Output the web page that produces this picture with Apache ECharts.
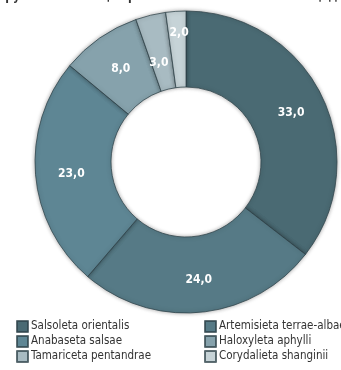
<!DOCTYPE html>
<html>
<head>
<meta charset="utf-8">
<script src="https://cdn.jsdelivr.net/npm/echarts@6/dist/echarts.min.js"></script>
<style>
  html, body { margin: 0; padding: 0; background: #fff; }
  #chart { width: 341px; height: 370px; }
</style>
</head>
<body>
<div id="chart"></div>
<script>
// Plant associations and their share of occupied area
const categories = [
  'Salsoleta orientalis',
  'Artemisieta terrae-albae',
  'Anabaseta salsae',
  'Haloxyleta aphylli',
  'Tamariceta pentandrae',
  'Corydalieta shanginii'
];
const values = [33.0, 24.0, 23.0, 8.0, 3.0, 2.0];
const colors = ['#4a6a73', '#567a86', '#5e8694', '#86a2ac', '#a8bbc2', '#c6d3d7'];
const titleText = 'Крупные настоящие разности по занимаемой площади';

// the two thinnest slices get their labels nudged apart so they don't collide
const labelNudge = { 4: [0, 14], 5: [1, -13] };

const font = "'DejaVu Sans Condensed', 'Liberation Sans', sans-serif";

const chart = echarts.init(document.getElementById('chart'), null, { renderer: 'canvas' });

const legendBase = {
  orient: 'vertical',
  top: 320,
  itemWidth: 11,
  itemHeight: 11,
  itemGap: 2,
  icon: 'rect',
  textStyle: { fontFamily: font, fontSize: 11.5, color: '#333', padding: [0, 0, 0, -2] },
  padding: 0
};

chart.setOption({
  animation: false,
  color: colors,
  title: {
    text: titleText,
    left: 'center',
    top: -14,
    textStyle: { fontFamily: font, fontSize: 12, fontWeight: 'bold', color: '#333' }
  },
  legend: [
    Object.assign({}, legendBase, { left: 16, data: [categories[0], categories[2], categories[4]] }),
    Object.assign({}, legendBase, { left: 204, data: [categories[1], categories[3], categories[5]] })
  ],
  series: [{
    type: 'pie',
    center: [186, 162],
    radius: [75, 151],
    startAngle: 90,
    clockwise: true,
    avoidLabelOverlap: false,
    itemStyle: {
      borderColor: 'rgba(45,65,72,0.75)',
      borderWidth: 1,
      shadowBlur: 4,
      shadowColor: 'rgba(0,0,0,0.35)'
    },
    label: {
      show: true,
      position: 'inside',
      color: '#fff',
      fontFamily: font,
      fontSize: 12,
      fontWeight: 'bold',
      offset: [1, 2],
      formatter: p => p.value.toFixed(1).replace('.', ',')
    },
    labelLine: { show: false },
    data: categories.map((name, i) => {
      const item = { name, value: values[i] };
      if (labelNudge[i]) item.label = { offset: labelNudge[i] };
      return item;
    })
  }]
});
</script>
</body>
</html>
